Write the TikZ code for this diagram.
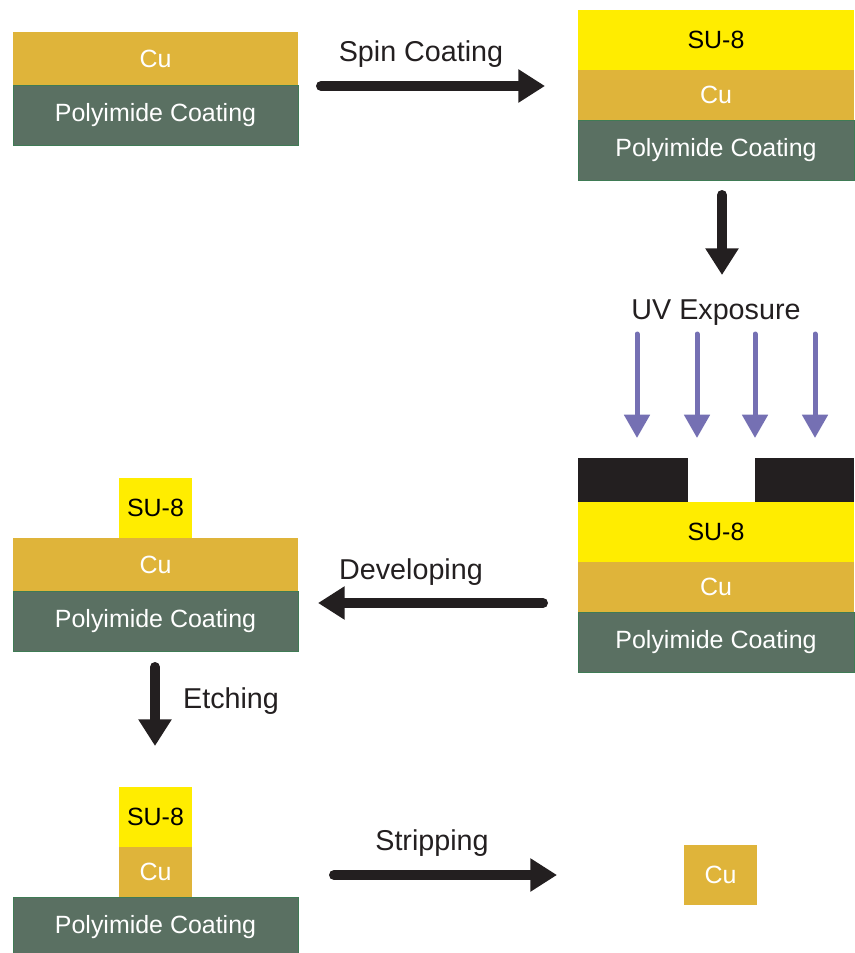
\documentclass[tikz,border=0pt]{standalone}
\usepackage{fontspec}
\setmainfont{Liberation Sans}
\usetikzlibrary{arrows.meta, positioning}
\usepackage{xcolor}
\definecolor{cugold}{HTML}{DFB43A}
\definecolor{pigreen}{HTML}{5A7062}
\definecolor{piedge}{HTML}{3F7B55}
\definecolor{suyellow}{HTML}{FFED00}
\definecolor{maskblack}{HTML}{231F20}
\definecolor{uvpurple}{HTML}{7570B3}

\begin{document}
\begin{tikzpicture}[x=0.03cm, y=-0.03cm, node distance=0pt,
		layer/.style={rectangle, inner sep=0pt, outer sep=0pt, font=\fontsize{21.3}{21.3}\selectfont},
		cu/.style={layer, fill=cugold, text=white, minimum height=1.5cm},
		su/.style={layer, fill=suyellow, text=black, minimum height=1.8cm},
		pi/.style={layer, fill=pigreen, draw=piedge, line width=0.6pt, text=white, minimum height=1.8cm},
		wide/.style={minimum width=8.55cm},
		rwide/.style={minimum width=8.28cm},
		pillar/.style={minimum width=2.19cm},
		mask/.style={rectangle, inner sep=0pt, outer sep=0pt, fill=maskblack, minimum height=1.32cm},
		label/.style={font=\fontsize{24.5}{24.5}\selectfont, text=maskblack},
		proc/.style={draw=maskblack, line width=0.3cm, line cap=round, -{Triangle[length=0.8cm, width=0.95cm]}},
		uv/.style={draw=uvpurple, line width=0.15cm, line cap=round, -{Triangle[length=0.7cm, width=0.75cm]}}]
		
		\useasboundingbox (0,0) rectangle (854,953);
		
		%cu1
		\node[cu, wide, minimum height=1.59cm, anchor=north west] (cu1) at (13,32) {Cu};
		%pi1
		\node[pi, wide, below=of cu1] (pi1) {Polyimide Coating};
		
		%su2
		\node[su, rwide, anchor=north west] (su2) at (578,10) {SU-8};
		%cu2
		\node[cu, rwide, below=of su2] (cu2) {Cu};
		%pi2
		\node[pi, rwide, below=of cu2] (pi2) {Polyimide Coating};
		
		%su3
		\node[su, rwide, anchor=north west] (su3) at (578,502) {SU-8};
		%cu3
		\node[cu, rwide, below=of su3] (cu3) {Cu};
		%pi3
		\node[pi, rwide, below=of cu3] (pi3) {Polyimide Coating};
		%mask
		\node[mask, minimum width=3.3cm, above right=0pt and 0pt of su3.north west] (mask1) {};
		\node[mask, minimum width=2.97cm, above left=0pt and 0pt of su3.north east] (mask2) {};
		
		%cu4
		\node[cu, wide, minimum height=1.59cm, anchor=north west] (cu4) at (13,538) {Cu};
		%pi4
		\node[pi, wide, below=of cu4] (pi4) {Polyimide Coating};
		%su4
		\node[su, pillar, above=of cu4] (su4) {SU-8};
		
		%pi5
		\node[pi, wide, anchor=north west] (pi5) at (13,897) {Polyimide Coating};
		%cu5
		\node[cu, pillar, above=of pi5] (cu5) {Cu};
		%su5
		\node[su, pillar, above=of cu5] (su5) {SU-8};
		
		%cu6
		\node[cu, pillar, minimum height=1.8cm, anchor=north west] (cu6) at (684,845) {Cu};
		
		%labels
		\node[label] (spin) at (421,54) {Spin Coating};
		\node[label] (expo) at (716,313) {UV Exposure};
		\node[label] (dev) at (411,572) {Developing};
		\node[label] (etch) at (231,701) {Etching};
		\node[label] (strip) at (432,843) {Stripping};
		
		%arrow ends
		\coordinate (spinA) at (321,86);
		\coordinate (spinB) at (545,86);
		\coordinate (expoA) at (722,195);
		\coordinate (expoB) at (722,275);
		\coordinate (devA) at (543,603);
		\coordinate (devB) at (318,603);
		\coordinate (etchA) at (155,667);
		\coordinate (etchB) at (155,746);
		\coordinate (stripA) at (334,875);
		\coordinate (stripB) at (557,875);
		
		% process steps
		\draw[proc] (spinA) -- (spinB);
		\draw[proc] (expoA) -- (expoB);
		\draw[proc] (devA) -- (devB);
		\draw[proc] (etchA) -- (etchB);
		\draw[proc] (stripA) -- (stripB);
		
		% UV light
		\foreach \x [count=\i] in {637,697,755,815} {
			\coordinate (uvA\i) at (\x,334);
			\coordinate (uvB\i) at (\x,438);
			\draw[uv] (uvA\i) -- (uvB\i);
		}
		
\end{tikzpicture}
\end{document}
